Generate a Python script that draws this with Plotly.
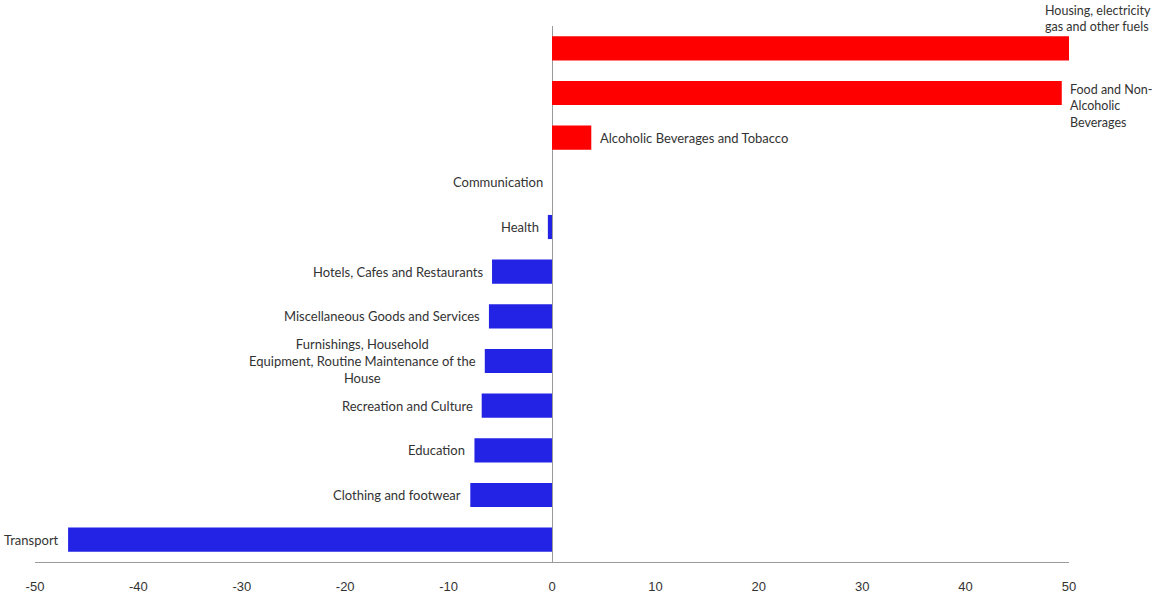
import plotly.graph_objects as go

# Categories listed top to bottom, with their change values
categories = [
    "Housing, electricity<br>gas and other fuels",
    "Food and Non-<br>Alcoholic<br>Beverages",
    "Alcoholic Beverages and Tobacco",
    "Communication",
    "Health",
    "Hotels, Cafes and Restaurants",
    "Miscellaneous Goods and Services",
    "Furnishings, Household<br>Equipment, Routine Maintenance of the<br>House",
    "Recreation and Culture",
    "Education",
    "Clothing and footwear",
    "Transport",
]
values = [50.0, 49.3, 3.8, 0.0, -0.4, -5.8, -6.1, -6.5, -6.8, -7.5, -7.9, -46.8]
tick_vals = [-50, -40, -30, -20, -10, 0, 10, 20, 30, 40, 50]

RED = "#FE0000"
BLUE = "#2323E6"
colors = [RED if v > 0 else BLUE for v in values]
ids = list(range(len(categories)))

fig = go.Figure(go.Bar(
    x=values, y=ids, orientation="h",
    marker=dict(color=colors, line=dict(width=0)),
    width=0.54, hoverinfo="skip",
))

label_font = dict(family="Lato, Open Sans, sans-serif", size=13, color="#333333")
small_font = dict(family="Lato, Open Sans, sans-serif", size=12.5, color="#333333")
annotations = []
for i, (cat, v) in enumerate(zip(categories, values)):
    if i == 0:
        # label sits above the end of the longest bar
        annotations.append(dict(x=v, y=i, text=cat, showarrow=False, xanchor="left",
                                yanchor="bottom", align="left", xshift=-26, yshift=12,
                                font=small_font))
    elif i == 1:
        annotations.append(dict(x=v, y=i, text=cat, showarrow=False, xanchor="left",
                                yanchor="top", align="left", xshift=6, yshift=13,
                                font=small_font))
    elif v > 0:
        annotations.append(dict(x=v, y=i, text=cat, showarrow=False, xanchor="left",
                                yanchor="middle", align="left", xshift=7,
                                font=label_font))
    else:
        annotations.append(dict(x=v, y=i, text=cat, showarrow=False, xanchor="right",
                                yanchor="middle", align="center", xshift=-7,
                                font=label_font))

fig.update_layout(
    width=1156, height=593,
    margin=dict(l=35, r=87, t=26, b=31),
    paper_bgcolor="white", plot_bgcolor="white",
    showlegend=False,
    annotations=annotations,
    xaxis=dict(
        range=[-50, 50], tickvals=tick_vals, ticktext=[str(t) for t in tick_vals],
        showgrid=False, zeroline=True, zerolinecolor="#9a9a9a", zerolinewidth=1,
        showline=True, linecolor="#9a9a9a", linewidth=1, ticks="",
        ticklabelstandoff=12, automargin=False,
        tickfont=dict(family="Liberation Sans, Arial, sans-serif", size=13, color="#333333"),
        fixedrange=True,
    ),
    yaxis=dict(
        range=[len(categories) - 0.5, -0.5], showticklabels=False, showgrid=False,
        zeroline=False, showline=False, ticks="", fixedrange=True, automargin=False,
    ),
)

fig.write_html("out.html")
